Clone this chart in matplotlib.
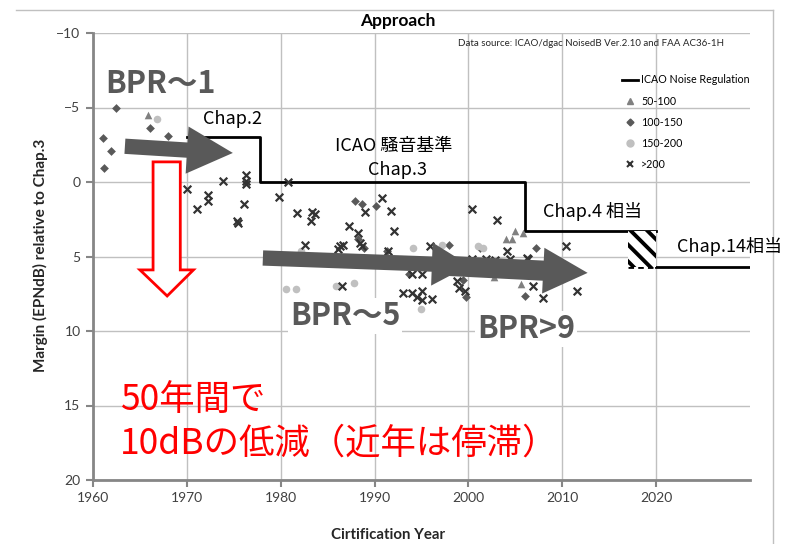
import numpy as np
import matplotlib
matplotlib.use('Agg')
import matplotlib.pyplot as plt
from matplotlib.lines import Line2D
from matplotlib.patches import Polygon, Rectangle

plt.rcParams['font.family'] = ['Lato', 'Noto Sans CJK JP', 'DejaVu Sans']
plt.rcParams['hatch.linewidth'] = 2.8
plt.rcParams['hatch.color'] = 'black'
JP = ['Noto Sans CJK JP', 'DejaVu Sans']

# ---- data ----
# 50-100 seats (triangles)
tri_year = [1965.9, 2004.0, 2004.6, 2005.0, 2005.8, 2002.7, 2005.6]
tri_margin = [-4.5, 3.8, 3.8, 3.3, 3.4, 6.4, 6.85]

# 100-150 (diamonds)
dia_year = [1962.4, 1961.1, 1961.9, 1961.2, 1966.1, 1968.0, 1987.9, 1988.7, 1990.1,
            1988.9, 1988.2, 1991.3, 1993.7, 1999.4, 1999.7, 1997.9, 2001.2, 2007.2, 2006.0]
dia_margin = [-5.0, -2.95, -2.1, -0.95, -3.6, -3.1, 1.3, 1.5, 1.6,
              4.4, 3.8, 4.6, 6.2, 6.6, 7.7, 4.2, 4.4, 4.4, 7.65]

# 150-200 (circles)
cir_year = [1966.8, 1980.6, 1981.6, 1985.9, 1987.8, 1982.2, 1994.1, 1997.2, 1994.9,
            2001.5, 2001.0]
cir_margin = [-4.2, 7.2, 7.2, 7.0, 6.8, 4.6, 4.4, 4.2, 8.5, 4.4, 4.3]

# >200 (crosses)
x_year = [1970.0, 1971.1, 1972.3, 1972.3, 1973.8, 1976.3, 1976.3, 1976.3, 1976.1, 1975.3,
          1975.4, 1979.8, 1980.8,
          1981.7, 1983.3, 1983.6, 1983.2, 1982.6, 1986.3, 1986.6, 1986.1, 1987.3, 1988.2,
          1988.4, 1988.7, 1989.0, 1986.5, 1990.8, 1991.8, 1992.1, 1991.4, 1995.9,
          1993.0, 1994.0, 1995.0, 1994.5, 1995.1, 1996.1, 1994.0, 1995.1, 1998.8, 1999.0,
          1999.6,
          2000.4, 2003.0, 2000.4, 2001.9, 2002.8, 2004.4, 2004.1, 2006.2, 2006.4, 2006.9,
          2007.9, 2010.4, 2011.6]
x_margin = [0.45, 1.8, 0.9, 1.3, -0.1, -0.5, -0.1, 0.15, 1.5, 2.6,
            2.75, 1.0, 0.0,
            2.1, 2.0, 2.15, 2.6, 4.2, 4.3, 4.2, 4.5, 2.95, 3.4,
            4.1, 4.3, 2.0, 7.0, 1.05, 1.95, 3.3, 4.6, 4.3,
            7.45, 7.45, 7.3, 7.7, 7.9, 7.85, 6.2, 6.2, 6.65, 7.1,
            7.3,
            1.8, 2.55, 5.2, 5.2, 5.25, 5.2, 4.6, 5.1, 5.2, 7.0,
            7.8, 4.3, 7.3]

# ICAO noise regulation (Chap.2 -> Chap.3 -> Chap.4)
reg_year = [1970, 1977.8, 1977.8, 2006.0, 2006.0, 2020]
reg_margin = [-3.0, -3.0, 0.0, 0.0, 3.3, 3.3]
chap14_year = [2020, 2030]
chap14_margin = [5.7, 5.7]

W, H = 786, 544
def fx(x):
    return x / W
def fy(y):
    return 1 - y / H

fig = plt.figure(figsize=(7.86, 5.44), dpi=100)
ax = fig.add_axes([fx(93), fy(480), (750 - 93) / W, (480 - 33) / H])

ax.set_xlim(1960, 2030)
ax.set_ylim(20, -10)
ax.set_xticks(range(1960, 2021, 10))
ax.set_yticks(range(-10, 21, 5))
ax.grid(True, color='#c0c0c0', lw=1)
ax.set_axisbelow(True)
for s in ['top', 'right']:
    ax.spines[s].set_visible(False)
for s in ['left', 'bottom']:
    ax.spines[s].set_color('#868686')
    ax.spines[s].set_linewidth(2)
ax.tick_params(direction='out', length=5, width=1.5, color='#868686',
               labelsize=10, labelcolor='#404040', pad=4)

# regulation lines
ax.plot(reg_year, reg_margin, color='black', lw=2, zorder=3)
ax.plot(chap14_year, chap14_margin, color='black', lw=2, zorder=3)
ax.plot([2017, 2020], [5.7, 5.7], color='black', lw=2, ls=(0, (2, 1.5)), zorder=3)
ax.add_patch(Rectangle((2017, 3.3), 3, 2.4, facecolor='white', edgecolor='black',
                       lw=0, hatch='\\\\', zorder=3))

# scatter
ax.scatter(tri_year, tri_margin, marker='^', s=30, color='#808080', zorder=4, lw=0)
ax.scatter(dia_year, dia_margin, marker='D', s=20, color='#595959', zorder=4, lw=0)
ax.scatter(cir_year, cir_margin, marker='o', s=30, color='#c0c0c0', zorder=4, lw=0)
ax.scatter(x_year, x_margin, marker='x', s=30, color='#333333', zorder=4, lw=1.6)

# big grey arrows
def big_arrow(x0, y0, x1, y1, tw, hw, hl):
    ax.annotate('', xy=(x1, y1), xytext=(x0, y0),
                arrowprops=dict(arrowstyle='simple,head_length=%g,head_width=%g,tail_width=%g' % (hl, hw, tw),
                                fc='#595959', ec='none', shrinkA=0, shrinkB=0,
                                mutation_scale=10), zorder=6)

big_arrow(1963.4, -2.4, 1974.9, -1.95, 1.1, 3.4, 3.3)
big_arrow(1978.1, 5.1, 2000.1, 5.6, 1.1, 3.1, 2.7)
big_arrow(1996.9, 5.6, 2012.7, 6.1, 1.45, 3.3, 3.2)

# red hollow arrow
red_pts = [(1966.4, -1.35), (1969.3, -1.35), (1969.3, 5.9), (1970.7, 5.9),
           (1967.9, 7.65), (1965.0, 5.9), (1966.4, 5.9)]
ax.add_patch(Polygon(red_pts, closed=True, facecolor='white', edgecolor='red',
                     lw=2, zorder=5))

# annotations
grey = '#595959'
fig.text(fx(105), fy(84), 'BPR～1', fontsize=22, fontweight='bold', color=grey,
         family=JP, va='center', ha='left', zorder=7)
fig.text(fx(290), fy(316), 'BPR～5', fontsize=22, fontweight='bold', color=grey,
         family=JP, va='center', ha='left', zorder=7,
         bbox=dict(fc='white', ec='none', pad=1))
fig.text(fx(477), fy(329), 'BPR>9', fontsize=22, fontweight='bold', color=grey,
         family=JP, va='center', ha='left', zorder=7,
         bbox=dict(fc='white', ec='none', pad=1))

fig.text(fx(203), fy(119), 'Chap.2', fontsize=13, family=JP, va='center', ha='left')
fig.text(fx(394), fy(146), 'ICAO 騒音基準', fontsize=13, family=JP, va='center', ha='center')
fig.text(fx(397), fy(170), 'Chap.3', fontsize=13, family=JP, va='center', ha='center')
fig.text(fx(543), fy(211), 'Chap.4 相当', fontsize=13, family=JP, va='center', ha='left')
fig.text(fx(677), fy(247), 'Chap.14相当', fontsize=13, family=JP, va='center', ha='left')

fig.text(fx(120), fy(401), '50年間で', fontsize=25.5, color='red', family=JP,
         va='center', ha='left')
fig.text(fx(120), fy(444), '10dBの低減（近年は停滞）', fontsize=25.5, color='red', family=JP,
         va='center', ha='left')

fig.text(fx(398), fy(21), 'Approach', fontsize=12.5, fontweight='bold', ha='center', va='center')
fig.text(fx(458), fy(44), 'Data source: ICAO/dgac NoisedB Ver.2.10 and FAA AC36-1H',
         fontsize=7, ha='left', va='center', color='#262626')
fig.text(fx(40), fy(255), 'Margin (EPNdB) relative to Chap.3', rotation=90,
         fontsize=11, fontweight='bold', ha='center', va='center', color='#262626')
fig.text(fx(388), fy(535), 'Cirtification Year', fontsize=10.8, fontweight='bold',
         ha='center', va='center', color='#262626')

# legend
handles = [Line2D([], [], color='black', lw=2),
           Line2D([], [], marker='^', ls='none', color='#808080', ms=5),
           Line2D([], [], marker='D', ls='none', color='#595959', ms=3.5),
           Line2D([], [], marker='o', ls='none', color='#c0c0c0', ms=5),
           Line2D([], [], marker='x', ls='none', color='#333333', ms=5, mew=1.5)]
labels = ['ICAO Noise Regulation', '50-100', '100-150', '150-200', '>200']
fig.legend(handles, labels, loc='upper left', bbox_to_anchor=(fx(617), fy(69)),
           frameon=False, fontsize=7.7, handlelength=1.5, handletextpad=0.25,
           labelspacing=0.95, borderpad=0)

# chart frame (top and right edges)
fig.add_artist(Line2D([fx(16), fx(773)], [fy(10), fy(10)], color='#c0c0c0', lw=1))
fig.add_artist(Line2D([fx(773), fx(773)], [fy(10), 0], color='#c0c0c0', lw=1))

fig.savefig('out.png', dpi=100)
